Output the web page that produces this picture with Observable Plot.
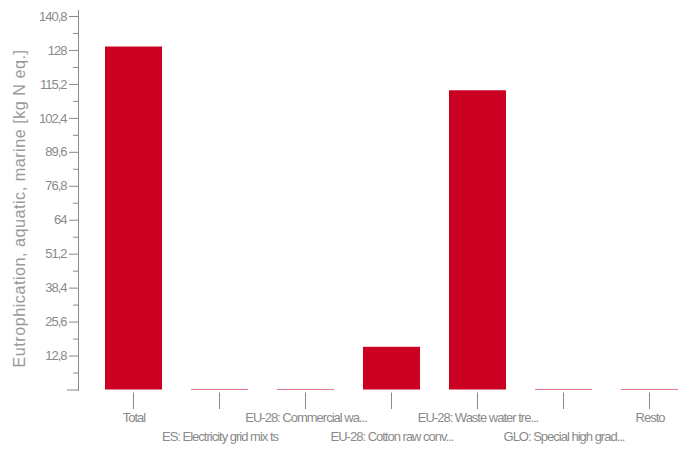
<!DOCTYPE html>
<html>
<head>
<meta charset="utf-8">
<script src="https://cdn.jsdelivr.net/npm/d3@7"></script>
<script src="https://cdn.jsdelivr.net/npm/@observablehq/plot@0.6"></script>
<style>
  html, body { margin: 0; padding: 0; background: #fff; }
  svg { font-family: "Liberation Sans", Arial, sans-serif; }
  g[aria-label="y-axis label"] text { font-size: 16.2px; fill: #9a9a9a; letter-spacing: 0.5px; }
  g[aria-label="y-axis tick label"] text { letter-spacing: -1px; }
  .xlab text { letter-spacing: -1px; }
</style>
</head>
<body>
<div id="chart"></div>
<script>
const categories = [
  "Total",
  "ES: Electricity grid mix ts",
  "EU-28: Commercial wa...",
  "EU-28: Cotton raw conv...",
  "EU-28: Waste water tre...",
  "GLO: Special high grad...",
  "Resto"
];
const values = [129.3, 0.2, 0.2, 16.1, 112.8, 0.2, 0.2];
const majorTicks = [12.8, 25.6, 38.4, 51.2, 64, 76.8, 89.6, 102.4, 115.2, 128, 140.8];
const minorTicks = [6.4, 19.2, 32, 44.8, 57.6, 70.4, 83.2, 96, 108.8, 121.6, 134.4];
const yLabel = "Eutrophication, aquatic, marine [kg N eq.]";

const data = categories.map((c, i) => ({category: c, value: values[i], i}));
const fmt = d => String(Math.round(d * 10) / 10).replace(".", ",");
const gray = "#8a8a8a";

const chart = Plot.plot({
  width: 694,
  height: 450,
  marginLeft: 78,
  marginRight: 0,
  marginTop: 10,
  marginBottom: 60,
  style: {fontSize: "13px", color: gray, background: "#fff"},
  x: {domain: categories, range: [90, 692], paddingInner: 0.34, paddingOuter: 0.17},
  y: {domain: [0, 140.8], range: [389.5, 16]},
  marks: [
    Plot.barY(data, {x: "category", y: "value", fill: "#cc0022"}),
    Plot.axisY(majorTicks, {tickSize: 9, tickPadding: 3, tickFormat: fmt, label: yLabel, labelAnchor: "center", labelArrow: "none", labelOffset: 65, stroke: gray, fill: gray}),
    Plot.axisY(minorTicks, {tickSize: 5, tickFormat: () => "", label: null, stroke: gray}),
    Plot.axisY([0], {tickSize: 11, tickFormat: () => "", label: null, stroke: gray}),
    Plot.frame({anchor: "left", stroke: gray}),
    Plot.ruleY([0], {stroke: gray, strokeWidth: 2, x1: 78, x2: 694}),
    Plot.axisX({tickSize: 0, tickFormat: () => "", label: null}),
    Plot.text(data.filter(d => d.i % 2 === 0), {x: "category", text: "category", frameAnchor: "bottom", dy: 31, fill: gray, fontSize: 13, className: "xlab"}),
    Plot.text(data.filter(d => d.i % 2 === 1), {x: "category", text: "category", frameAnchor: "bottom", dy: 50, fill: gray, fontSize: 13, className: "xlab"})
  ]
});
document.getElementById("chart").appendChild(chart);

const svg = d3.select(chart);
// shift y-axis title slightly down to match reference placement
svg.selectAll('g[aria-label="y-axis label"] text').each(function() {
  const t = this.getAttribute("transform") || "";
  const m = t.match(/translate\(([-\d.]+),([-\d.]+)\)/);
  if (m) this.setAttribute("transform", t.replace(m[0], `translate(${m[1]},${+m[2] + 8})`));
});

// x tick marks below the baseline, derived from the x scale
const xs = chart.scale("x");
svg.append("g").attr("aria-label", "x-axis tick").selectAll("line")
  .data(categories).join("line")
  .attr("x1", d => xs.apply(d) + xs.bandwidth / 2)
  .attr("x2", d => xs.apply(d) + xs.bandwidth / 2)
  .attr("y1", 392.5).attr("y2", 409)
  .attr("stroke", gray);
</script>
</body>
</html>
